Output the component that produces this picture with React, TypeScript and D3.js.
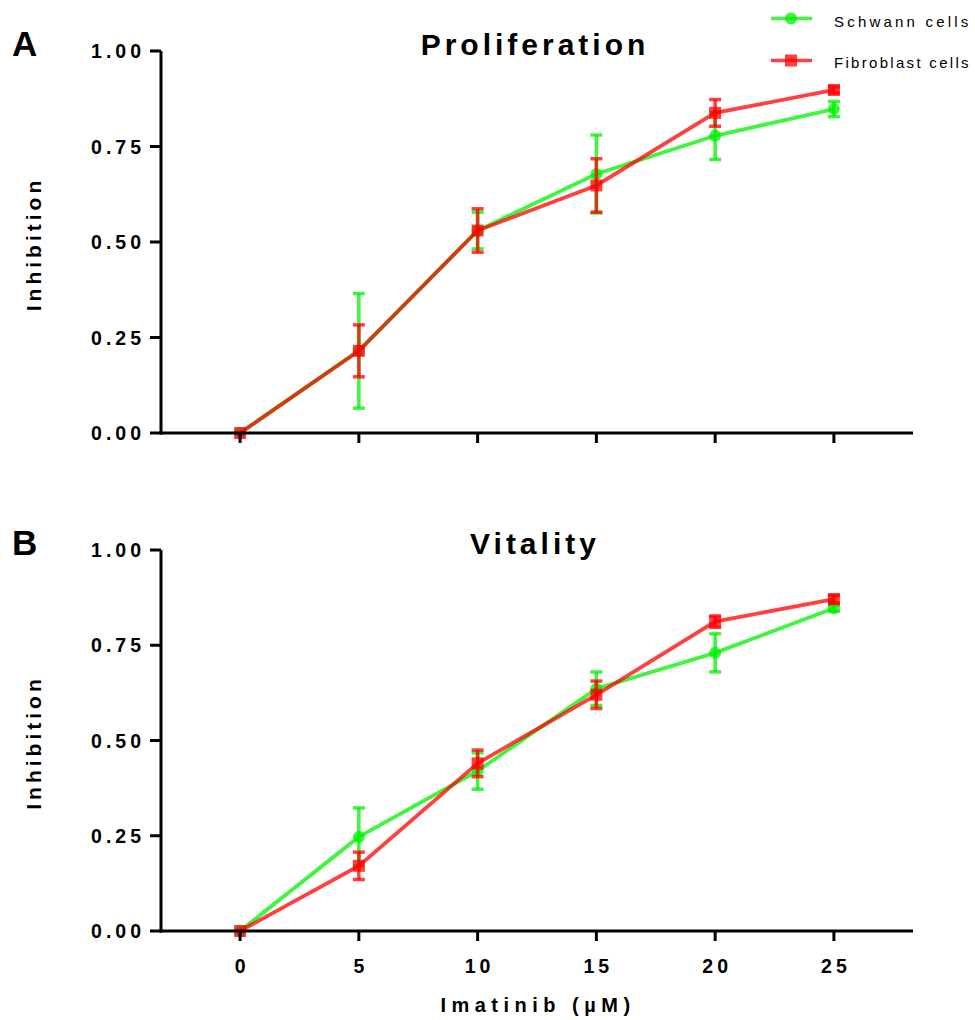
import React from "react";
import * as d3 from "d3";

const doses = [0, 5, 10, 15, 20, 25];
const xTicks = [0, 5, 10, 15, 20, 25];
const yTicks = [0, 0.25, 0.5, 0.75, 1.0];

const profSchwann = [0, 0.215, 0.53, 0.678, 0.778, 0.848];
const profSchwannErr = [0, 0.15, 0.048, 0.102, 0.062, 0.02];
const profFibro = [0, 0.215, 0.53, 0.648, 0.838, 0.898];
const profFibroErr = [0, 0.068, 0.057, 0.07, 0.035, 0.008];

const vitSchwann = [0, 0.247, 0.42, 0.636, 0.73, 0.847];
const vitSchwannErr = [0, 0.076, 0.048, 0.044, 0.05, 0.008];
const vitFibro = [0, 0.171, 0.44, 0.62, 0.812, 0.871];
const vitFibroErr = [0, 0.036, 0.035, 0.036, 0.015, 0.01];

const GREEN = "rgba(0,240,0,0.75)";
const RED = "rgba(255,0,0,0.75)";
const FONT = "'Liberation Sans', Arial, sans-serif";

const xScale = d3.scaleLinear().domain([-3.33, 28.33]).range([161, 913]);

type Series = { vals: number[]; errs: number[]; color: string; shape: "circle" | "square" };

function Panel({ top, bottom, title, letter, series }: { top: number; bottom: number; title: string; letter: string; series: Series[] }) {
  const y = d3.scaleLinear().domain([0, 1]).range([bottom, top]);
  const line = d3.line<number>().x((_, i) => xScale(doses[i])).y((v) => y(v));
  return (
    <g>
      <text x={12} y={top + 5} fontFamily={FONT} fontWeight="bold" fontSize={35}>{letter}</text>
      <text x={535} y={top + 3.5} textAnchor="middle" fontFamily={FONT} fontWeight="bold" fontSize={30} letterSpacing={4}>{title}</text>
      <text transform={`translate(41,${(top + bottom) / 2 + 2}) rotate(-90)`} textAnchor="middle" fontFamily={FONT} fontWeight="bold" fontSize={21} letterSpacing={4}>Inhibition</text>
      {series.map((s, si) => (
        <g key={si}>
          <path d={line(s.vals) || ""} fill="none" stroke={s.color} strokeWidth={3.8} />
          {s.vals.map((v, i) =>
            s.errs[i] > 0 ? (
              <g key={i} stroke={s.color} strokeWidth={3.5}>
                <line x1={xScale(doses[i])} x2={xScale(doses[i])} y1={y(v - s.errs[i])} y2={y(v + s.errs[i])} />
                <line x1={xScale(doses[i]) - 6} x2={xScale(doses[i]) + 6} y1={y(v - s.errs[i])} y2={y(v - s.errs[i])} />
                <line x1={xScale(doses[i]) - 6} x2={xScale(doses[i]) + 6} y1={y(v + s.errs[i])} y2={y(v + s.errs[i])} />
              </g>
            ) : null
          )}
          {s.vals.map((v, i) =>
            s.shape === "circle" ? (
              <circle key={"m" + i} cx={xScale(doses[i])} cy={y(v)} r={6} fill={s.color} />
            ) : (
              <rect key={"m" + i} x={xScale(doses[i]) - 6} y={y(v) - 6} width={12} height={12} fill={s.color} />
            )
          )}
        </g>
      ))}
      <line x1={161} x2={161} y1={top} y2={bottom + 1.5} stroke="#000" strokeWidth={3} />
      <line x1={159.5} x2={913} y1={bottom} y2={bottom} stroke="#000" strokeWidth={3} />
      {yTicks.map((t) => (
        <g key={t}>
          <line x1={150} x2={161} y1={y(t)} y2={y(t)} stroke="#000" strokeWidth={3} />
          <text x={145} y={y(t) + 7} textAnchor="end" fontFamily={FONT} fontWeight="bold" fontSize={19.5} letterSpacing={4}>{d3.format(".2f")(t)}</text>
        </g>
      ))}
      {xTicks.map((t) => (
        <line key={t} x1={xScale(t)} x2={xScale(t)} y1={bottom} y2={bottom + 10} stroke="#000" strokeWidth={3} />
      ))}
    </g>
  );
}

export default function App() {
  return (
    <svg width={975} height={1020} style={{ display: "block", position: "absolute", left: 0, top: 0, background: "#fff" }}>
      <rect width={975} height={1020} fill="#fff" />
      <Panel top={51} bottom={433} title="Proliferation" letter="A" series={[
        { vals: profSchwann, errs: profSchwannErr, color: GREEN, shape: "circle" },
        { vals: profFibro, errs: profFibroErr, color: RED, shape: "square" },
      ]} />
      <Panel top={550} bottom={931} title="Vitality" letter="B" series={[
        { vals: vitSchwann, errs: vitSchwannErr, color: GREEN, shape: "circle" },
        { vals: vitFibro, errs: vitFibroErr, color: RED, shape: "square" },
      ]} />
      {xTicks.map((t) => (
        <text key={t} x={xScale(t) + 2} y={973} textAnchor="middle" fontFamily={FONT} fontWeight="bold" fontSize={19.5} letterSpacing={4}>{t}</text>
      ))}
      <text x={538} y={1012} textAnchor="middle" fontFamily={FONT} fontWeight="bold" fontSize={20} letterSpacing={5.5}>Imatinib (µM)</text>
      <g>
        <line x1={771} x2={812} y1={18.5} y2={18.5} stroke={GREEN} strokeWidth={3.5} />
        <circle cx={791} cy={18.5} r={6} fill={GREEN} />
        <text x={834} y={27} fontFamily={FONT} fontSize={15} letterSpacing={3.2}>Schwann cells</text>
        <line x1={771} x2={812} y1={60.5} y2={60.5} stroke={RED} strokeWidth={3.5} />
        <rect x={785} y={54.5} width={12} height={12} fill={RED} />
        <text x={834} y={68} fontFamily={FONT} fontSize={15} letterSpacing={2.3}>Fibroblast cells</text>
      </g>
    </svg>
  );
}
